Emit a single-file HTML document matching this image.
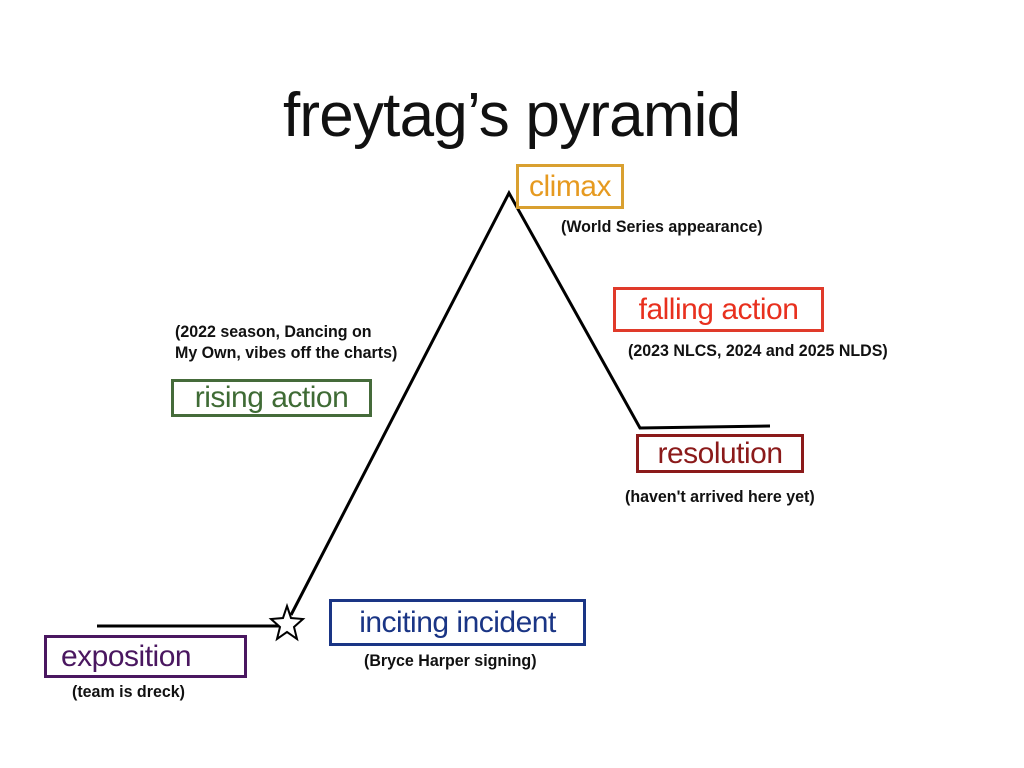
<!DOCTYPE html>
<html><head><style>
body{margin:0;width:1024px;height:768px;background:#fff;position:relative;overflow:hidden;font-family:"Liberation Sans",sans-serif}
.t{position:absolute;white-space:nowrap}
.box{position:absolute;box-sizing:border-box;border:3px solid;font-size:30px;line-height:1;display:flex;align-items:center;justify-content:center;letter-spacing:-0.5px}
.n{position:absolute;white-space:nowrap;font-family:"Liberation Sans",sans-serif;font-weight:bold;font-size:16.5px;line-height:21px;color:#111;transform-origin:0 0;transform:scaleX(0.97)}
</style></head><body>
<div class="t" style="left:283px;top:80px;font-size:62px;letter-spacing:-0.8px;color:#111">freytag’s pyramid</div>
<svg width="1024" height="768" style="position:absolute;left:0;top:0">
<polyline points="97,626 282,626" fill="none" stroke="#000" stroke-width="3"/>
<polyline points="291,615 509,193 640,428 770,426" fill="none" stroke="#000" stroke-width="3"/>
<polygon points="287,606 291,618 303,619 294,627 297,639 287,632 277,639 280,627 271,619 283,618" fill="#fff" stroke="#000" stroke-width="2"/>
</svg>
<div class="box" style="left:516px;top:164px;width:108px;height:45px;border-color:#d9a030;color:#e69a20">climax</div>
<div class="n" style="left:561px;top:217px">(World Series appearance)</div>
<div class="box" style="left:613px;top:287px;width:211px;height:45px;border-color:#e03a2a;color:#e8301e">falling action</div>
<div class="n" style="left:628px;top:341px">(2023 NLCS, 2024 and 2025 NLDS)</div>
<div class="box" style="left:636px;top:434px;width:168px;height:39px;border-color:#8b1a1a;color:#8b1a1a">resolution</div>
<div class="n" style="left:625px;top:487px">(haven't arrived here yet)</div>
<div class="n" style="left:175px;top:322px">(2022 season, Dancing on<br>My Own, vibes off the charts)</div>
<div class="box" style="left:171px;top:379px;width:201px;height:38px;border-color:#456b3a;color:#3f6b35">rising action</div>
<div class="box" style="left:329px;top:599px;width:257px;height:47px;border-color:#1a3585;color:#1a3585">inciting incident</div>
<div class="n" style="left:364px;top:651px">(Bryce Harper signing)</div>
<div class="box" style="left:44px;top:635px;width:203px;height:43px;border-color:#4a1760;color:#4a1760;justify-content:flex-start;padding-left:14px">exposition</div>
<div class="n" style="left:72px;top:682px">(team is dreck)</div>
</body></html>
